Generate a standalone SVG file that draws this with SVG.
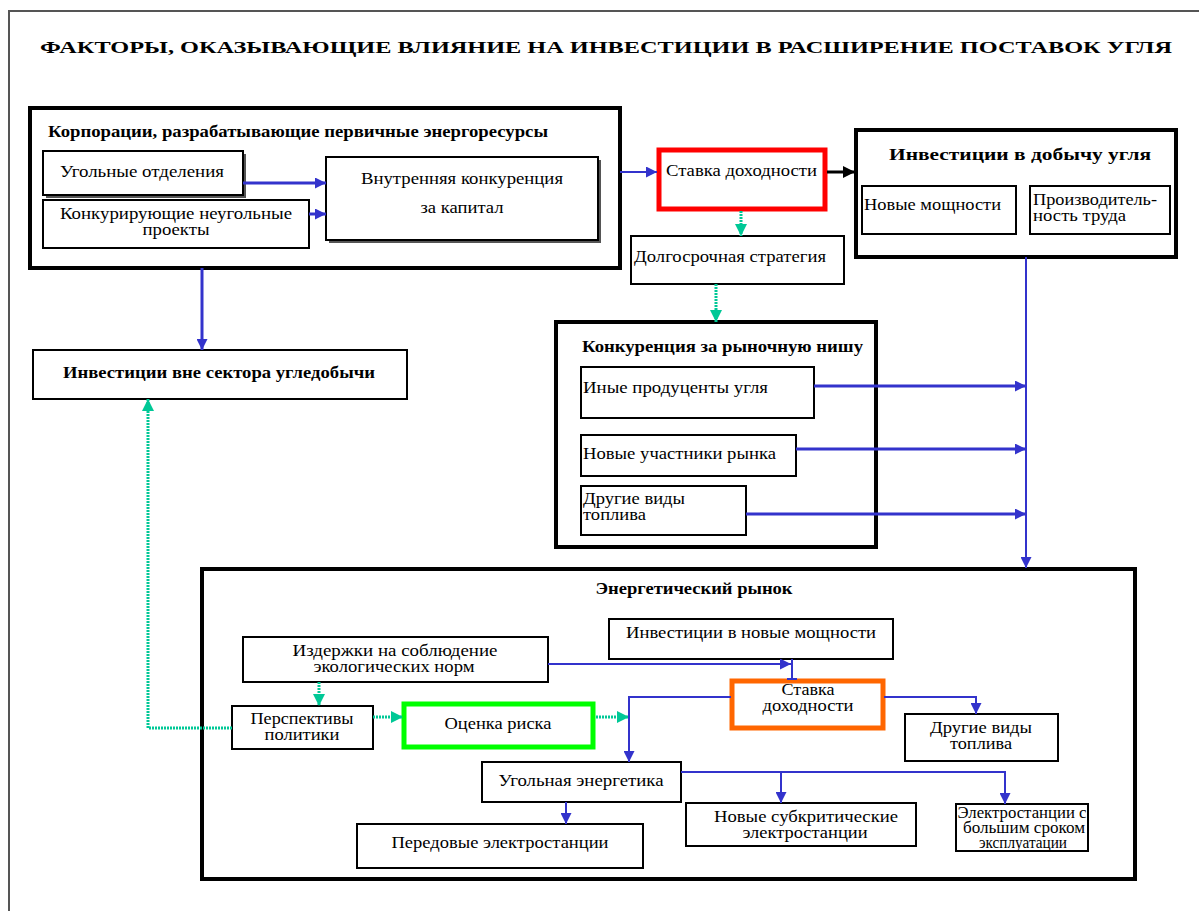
<svg xmlns="http://www.w3.org/2000/svg" width="1199" height="911" viewBox="0 0 1199 911">
<style>
text{font-family:"Liberation Serif","Times New Roman",serif;font-size:16px;fill:#000}
.b{font-weight:bold}
.c{text-anchor:middle}
.box{fill:#fff;stroke:#000;stroke-width:2}
.big{fill:#fff;stroke:#000;stroke-width:4}
.sh{fill:#555}
.bl{fill:none;stroke:#3333cc;stroke-width:2}
.bl3{fill:none;stroke:#3333cc;stroke-width:3}
.tl{fill:none;stroke:#00c896;stroke-width:3;stroke-dasharray:2 1}
.bk{fill:none;stroke:#000;stroke-width:3}
</style>
<defs>
<marker id="ab" viewBox="0 0 10 10" refX="10" refY="5" markerWidth="11" markerHeight="11" markerUnits="userSpaceOnUse" orient="auto"><path d="M0,0L10,5L0,10z" fill="#3333cc"/></marker>
<marker id="at" viewBox="0 0 10 10" refX="10" refY="5" markerWidth="12" markerHeight="12" markerUnits="userSpaceOnUse" orient="auto"><path d="M0,0L10,5L0,10z" fill="#00c896"/></marker>
<marker id="ak" viewBox="0 0 10 10" refX="10" refY="5" markerWidth="12" markerHeight="12" markerUnits="userSpaceOnUse" orient="auto"><path d="M0,0L10,5L0,10z" fill="#000"/></marker>
</defs>
<rect width="1199" height="911" fill="#fff"/>
<g id="frame"><path d="M9,911V11H1199" fill="none" stroke="#555" stroke-width="2"/></g>
<g id="title"><text class="b c" x="606" y="53" font-size="24" textLength="1132" lengthAdjust="spacingAndGlyphs">ФАКТОРЫ, ОКАЗЫВАЮЩИЕ ВЛИЯНИЕ НА ИНВЕСТИЦИИ В РАСШИРЕНИЕ ПОСТАВОК УГЛЯ</text></g>

<g id="corporations">
<rect class="big" x="30" y="108" width="590" height="160"/>
<text class="b" x="48" y="137" font-size="16" textLength="500" lengthAdjust="spacingAndGlyphs">Корпорации, разрабатывающие первичные энергоресурсы</text>
</g>
<g id="coal-divisions">
<rect class="sh" x="46" y="154" width="200" height="44"/>
<rect class="box" x="43" y="151" width="200" height="44"/>
<text x="60" y="177" textLength="164" lengthAdjust="spacingAndGlyphs">Угольные отделения</text>
</g>
<g id="noncoal-projects">
<rect class="box" x="43" y="200" width="266" height="48"/>
<text class="c" x="176" y="219" textLength="232" lengthAdjust="spacingAndGlyphs">Конкурирующие неугольные</text>
<text class="c" x="176" y="235" textLength="67" lengthAdjust="spacingAndGlyphs">проекты</text>
</g>
<g id="internal-competition">
<rect class="sh" x="329" y="160" width="272" height="83"/>
<rect class="box" x="326" y="157" width="272" height="83"/>
<text class="c" x="462" y="184" textLength="202" lengthAdjust="spacingAndGlyphs">Внутренняя конкуренция</text>
<text class="c" x="462" y="213" textLength="83" lengthAdjust="spacingAndGlyphs">за капитал</text>
</g>

<g id="rate-of-return">
<rect x="659" y="150" width="166" height="59" fill="#fff" stroke="#ff0000" stroke-width="5"/>
<text x="666" y="176" textLength="151" lengthAdjust="spacingAndGlyphs">Ставка доходности</text>
</g>
<g id="coal-mining-investment">
<rect class="big" x="856" y="130" width="320" height="127"/>
<text class="b c" x="1020" y="160" font-size="18" textLength="262" lengthAdjust="spacingAndGlyphs">Инвестиции в добычу угля</text>
<rect class="box" x="862" y="186" width="154" height="48"/>
<text x="864" y="210" textLength="137" lengthAdjust="spacingAndGlyphs">Новые мощности</text>
<rect class="box" x="1030" y="186" width="140" height="48"/>
<text x="1033" y="205" textLength="124" lengthAdjust="spacingAndGlyphs">Производитель-</text>
<text x="1033" y="221" textLength="93" lengthAdjust="spacingAndGlyphs">ность труда</text>
</g>
<g id="long-term-strategy">
<rect class="box" x="631" y="236" width="213" height="48"/>
<text x="634" y="262" textLength="192" lengthAdjust="spacingAndGlyphs">Долгосрочная стратегия</text>
</g>
<g id="market-niche">
<rect class="big" x="556" y="322" width="320" height="225"/>
<text class="b" x="582" y="352" font-size="16" textLength="281" lengthAdjust="spacingAndGlyphs">Конкуренция за рыночную нишу</text>
</g>
<g id="other-producers">
<rect class="box" x="581" y="367" width="233" height="51"/>
<text x="583" y="393" textLength="185" lengthAdjust="spacingAndGlyphs">Иные продуценты угля</text>
</g>
<g id="new-entrants">
<rect class="box" x="581" y="435" width="215" height="41"/>
<text x="583" y="459" textLength="193" lengthAdjust="spacingAndGlyphs">Новые участники рынка</text>
</g>
<g id="other-fuels-1">
<rect class="box" x="581" y="486" width="165" height="49"/>
<text x="583" y="504" textLength="102" lengthAdjust="spacingAndGlyphs">Другие виды</text>
<text x="583" y="520" textLength="63" lengthAdjust="spacingAndGlyphs">топлива</text>
</g>
<g id="outside-investment">
<rect class="box" x="33" y="350" width="374" height="49"/>
<text class="b c" x="219" y="378" font-size="16" textLength="312" lengthAdjust="spacingAndGlyphs">Инвестиции вне сектора угледобычи</text>
</g>

<g id="energy-market">
<rect class="big" x="202" y="569" width="933" height="310"/>
<text class="b c" x="694" y="594" font-size="16" textLength="197" lengthAdjust="spacingAndGlyphs">Энергетический рынок</text>
</g>
<g id="env-costs">
<rect class="box" x="243" y="637" width="305" height="45"/>
<text class="c" x="395" y="656" textLength="205" lengthAdjust="spacingAndGlyphs">Издержки на соблюдение</text>
<text class="c" x="394" y="672" textLength="161" lengthAdjust="spacingAndGlyphs">экологических норм</text>
</g>
<g id="new-capacity-investment">
<rect class="box" x="609" y="619" width="284" height="40"/>
<text class="c" x="751" y="638" textLength="250" lengthAdjust="spacingAndGlyphs">Инвестиции в новые мощности</text>
</g>
<g id="rate-of-return-2">
<rect x="732" y="681" width="151" height="47" fill="#fff" stroke="#ff6600" stroke-width="5"/>
<text class="c" x="808" y="695" textLength="53" lengthAdjust="spacingAndGlyphs">Ставка</text>
<text class="c" x="808" y="711" textLength="91" lengthAdjust="spacingAndGlyphs">доходности</text>
</g>
<g id="other-fuels-2">
<rect class="box" x="905" y="714" width="153" height="47"/>
<text class="c" x="981" y="733" textLength="102" lengthAdjust="spacingAndGlyphs">Другие виды</text>
<text class="c" x="981" y="749" textLength="62" lengthAdjust="spacingAndGlyphs">топлива</text>
</g>
<g id="policy-outlook">
<rect class="box" x="232" y="706" width="141" height="43"/>
<text class="c" x="302" y="724" textLength="103" lengthAdjust="spacingAndGlyphs">Перспективы</text>
<text class="c" x="302" y="740" textLength="75" lengthAdjust="spacingAndGlyphs">политики</text>
</g>
<g id="risk-assessment">
<rect x="404" y="704" width="189" height="43" fill="#fff" stroke="#00ff00" stroke-width="5"/>
<text class="c" x="498" y="729" textLength="107" lengthAdjust="spacingAndGlyphs">Оценка риска</text>
</g>
<g id="coal-power">
<rect class="box" x="482" y="762" width="199" height="40"/>
<text class="c" x="581" y="786" textLength="165" lengthAdjust="spacingAndGlyphs">Угольная энергетика</text>
</g>
<g id="advanced-plants">
<rect class="box" x="357" y="824" width="286" height="44"/>
<text class="c" x="500" y="848" textLength="217" lengthAdjust="spacingAndGlyphs">Передовые электростанции</text>
</g>
<g id="subcritical-plants">
<rect class="box" x="686" y="803" width="230" height="43"/>
<text class="c" x="806" y="822" textLength="184" lengthAdjust="spacingAndGlyphs">Новые субкритические</text>
<text class="c" x="805" y="838" textLength="125" lengthAdjust="spacingAndGlyphs">электростанции</text>
</g>
<g id="long-life-plants">
<rect class="box" x="956" y="804" width="132" height="47"/>
<text class="c" x="1022" y="818" font-size="12" textLength="129" lengthAdjust="spacingAndGlyphs">Электростанции с</text>
<text class="c" x="1024" y="833" font-size="12" textLength="122" lengthAdjust="spacingAndGlyphs">большим сроком</text>
<text class="c" x="1023" y="848" font-size="12" textLength="88" lengthAdjust="spacingAndGlyphs">эксплуатации</text>
</g>

<g id="connectors">
<path class="bl3" d="M243,183H326" marker-end="url(#ab)"/>
<path class="bl3" d="M309,214H326" marker-end="url(#ab)"/>
<path class="bl" d="M620,172H657" marker-end="url(#ab)"/>
<path class="bk" d="M827,172H855" marker-end="url(#ak)"/>
<path class="tl" d="M741,211V236" marker-end="url(#at)"/>
<path class="tl" d="M716,284V322" marker-end="url(#at)"/>
<path class="bl" d="M1026,257V568" marker-end="url(#ab)"/>
<path class="bl3" d="M814,386H1026" marker-end="url(#ab)"/>
<path class="bl3" d="M796,449H1026" marker-end="url(#ab)"/>
<path class="bl3" d="M746,514H1026" marker-end="url(#ab)"/>
<path class="bl3" d="M202,268V350" marker-end="url(#ab)"/>
<path class="tl" d="M232,728H148V399" marker-end="url(#at)"/>
<path class="bl" d="M548,664H791" marker-end="url(#ab)"/>
<path class="bl" d="M792,659V679M787,679H797"/>
<path class="tl" d="M319,682V706" marker-end="url(#at)"/>
<path class="tl" d="M373,717H403" marker-end="url(#at)"/>
<path class="tl" d="M596,717H629" marker-end="url(#at)"/>
<path class="bl" d="M731,697H629V762" marker-end="url(#ab)"/>
<path class="bl" d="M884,697H976V714" marker-end="url(#ab)"/>
<path class="bl" d="M681,772H1005V804" marker-end="url(#ab)"/>
<path class="bl" d="M781,772V803" marker-end="url(#ab)"/>
<path class="bl" d="M566,802V824" marker-end="url(#ab)"/>
</g>
</svg>
